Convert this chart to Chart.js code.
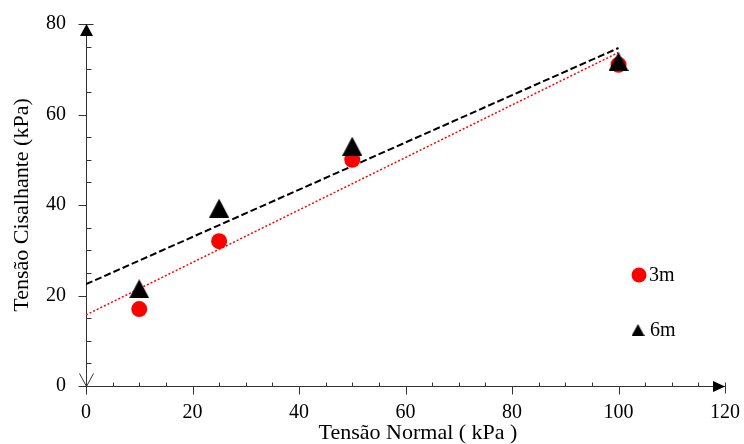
<!DOCTYPE html>
<html>
<head>
<meta charset="utf-8">
<script src="https://cdn.jsdelivr.net/npm/chart.js@4.4.1/dist/chart.umd.min.js"></script>
<style>
  html, body { margin: 0; padding: 0; background: #fff; }
  #wrap { width: 744px; height: 444px; }
</style>
</head>
<body>
<div id="wrap"><canvas id="chart" width="744" height="444"></canvas></div>
<script>
// valores
const tensaoNormal = [10, 25, 50, 100];
const cisalhante3m = [17, 32, 50, 71];
const cisalhante6m = [21.5, 39.3, 53, 71.7];
const trendX = [0, 100];
const trend3m = [15.7, 73.7];
const trend6m = [22.5, 74.7];
const xLabels = [0, 20, 40, 60, 80, 100, 120];
const yLabels = [0, 20, 40, 60, 80];
const legendNames = ['3m', '6m'];

const serif = "'Liberation Serif', 'Times New Roman', serif";
const axisColor = '#333';

function toPoints(xs, ys) {
    return xs.map((x, i) => ({ x: x, y: ys[i] }));
}

// triângulo centrado na caixa (como no Excel)
function makeTriangle(w, h, color) {
    const c = document.createElement('canvas');
    c.width = w;
    c.height = h;
    const g = c.getContext('2d');
    g.fillStyle = color;
    g.beginPath();
    g.moveTo(w / 2, 0);
    g.lineTo(w, h);
    g.lineTo(0, h);
    g.closePath();
    g.fill();
    return c;
}

const triangleBig = makeTriangle(20, 19, '#000');
const triangleSmall = makeTriangle(13, 12, '#000');

// eixos com setas, marcas maiores/menores, legenda e título do eixo x
const axesDeco = {
    id: 'axesDeco',
    afterDraw(chart) {
        const ctx = chart.ctx;
        const xs = chart.scales.x;
        const ys = chart.scales.y;
        const xBase = Math.round(xs.getPixelForValue(0)) + 0.5;
        const yBase = Math.round(ys.getPixelForValue(0)) + 0.5;
        const xEnd = xs.getPixelForValue(xs.max);
        const yTop = ys.getPixelForValue(ys.max);

        ctx.save();
        ctx.strokeStyle = axisColor;
        ctx.fillStyle = axisColor;
        ctx.lineWidth = 1;
        ctx.beginPath();
        xs.ticks.forEach(t => {
            const px = Math.round(xs.getPixelForValue(t.value)) + 0.5;
            if (t.value === xs.max) {
                ctx.moveTo(px, yBase - 4);
                ctx.lineTo(px, yBase + 7);
            } else if (xLabels.includes(t.value)) {
                ctx.moveTo(px, yBase);
                ctx.lineTo(px, yBase + 8);
            } else {
                ctx.moveTo(px, yBase);
                ctx.lineTo(px, yBase - 4);
            }
        });
        ys.ticks.forEach(t => {
            const py = Math.round(ys.getPixelForValue(t.value)) + 0.5;
            if (t.value === ys.max) {
                ctx.moveTo(xBase - 8, py);
                ctx.lineTo(xBase + 7, py);
            } else if (yLabels.includes(t.value)) {
                ctx.moveTo(xBase, py);
                ctx.lineTo(xBase - 8, py);
            } else {
                ctx.moveTo(xBase, py);
                ctx.lineTo(xBase + 5, py);
            }
        });
        // ponta aberta em baixo do eixo y
        ctx.moveTo(xBase - 7, yBase - 13);
        ctx.lineTo(xBase, yBase);
        ctx.lineTo(xBase + 7, yBase - 13);
        ctx.stroke();

        // setas cheias
        ctx.fillStyle = '#000';
        ctx.beginPath();
        ctx.moveTo(xBase, yTop);
        ctx.lineTo(xBase + 6.5, yTop + 12);
        ctx.lineTo(xBase - 6.5, yTop + 12);
        ctx.closePath();
        ctx.fill();
        ctx.beginPath();
        ctx.moveTo(xEnd, yBase);
        ctx.lineTo(xEnd - 12, yBase - 5.5);
        ctx.lineTo(xEnd - 12, yBase + 5.5);
        ctx.closePath();
        ctx.fill();

        // legenda
        ctx.fillStyle = '#ff0000';
        ctx.beginPath();
        ctx.arc(639, 275, 7.5, 0, Math.PI * 2);
        ctx.fill();
        ctx.drawImage(triangleSmall, 638 - 6.5, 330 - 6);
        ctx.fillStyle = '#000';
        ctx.font = '20px ' + serif;
        ctx.textBaseline = 'middle';
        ctx.textAlign = 'left';
        ctx.fillText(legendNames[0], 649, 276);
        ctx.fillText(legendNames[1], 650, 331);

        // título do eixo x
        ctx.font = '22px ' + serif;
        ctx.textBaseline = 'alphabetic';
        ctx.textAlign = 'center';
        ctx.fillText('Tensão Normal ( kPa )', 418, 439);
        ctx.restore();
    }
};

const ctx = document.getElementById('chart').getContext('2d');
const chartInstance = new Chart(ctx, {
    type: 'scatter',
    data: {
        datasets: [
            {
                label: '6m',
                data: toPoints(tensaoNormal, cisalhante6m),
                pointStyle: triangleBig,
                clip: false,
                order: 0
            },
            {
                label: '3m',
                data: toPoints(tensaoNormal, cisalhante3m),
                pointStyle: 'circle',
                pointRadius: 8,
                pointBorderWidth: 0,
                backgroundColor: '#ff0000',
                borderColor: '#ff0000',
                clip: false,
                order: 1
            },
            {
                type: 'line',
                label: 'Linear (6m)',
                data: toPoints(trendX, trend6m),
                borderColor: '#000',
                borderWidth: 2,
                borderDash: [7, 3],
                pointRadius: 0,
                fill: false,
                order: 2
            },
            {
                type: 'line',
                label: 'Linear (3m)',
                data: toPoints(trendX, trend3m),
                borderColor: '#ff0000',
                borderWidth: 1.5,
                borderDash: [2, 2],
                pointRadius: 0,
                fill: false,
                order: 3
            }
        ]
    },
    options: {
        responsive: false,
        animation: false,
        devicePixelRatio: 1,
        layout: { padding: { top: 24, right: 19, left: 0, bottom: 0 } },
        plugins: {
            legend: { display: false },
            tooltip: { enabled: false }
        },
        scales: {
            x: {
                type: 'linear',
                min: 0,
                max: 120,
                grid: { display: false, drawTicks: false },
                border: { display: true, color: axisColor, width: 1 },
                ticks: {
                    stepSize: 5,
                    autoSkip: false,
                    maxRotation: 0,
                    padding: 15,
                    color: '#000',
                    font: { family: serif, size: 20 },
                    callback: v => xLabels.includes(v) ? String(v) : ''
                },
                afterFit: scale => {
                    scale.height = 58;
                    scale.paddingLeft = 0;
                    scale.paddingRight = 0;
                }
            },
            y: {
                type: 'linear',
                min: 0,
                max: 80,
                grid: { display: false, drawTicks: false },
                border: { display: true, color: axisColor, width: 1 },
                ticks: {
                    stepSize: 5,
                    autoSkip: false,
                    padding: 20,
                    color: '#000',
                    font: { family: serif, size: 20 },
                    callback: v => yLabels.includes(v) ? String(v) : ''
                },
                title: {
                    display: true,
                    text: 'Tensão Cisalhante (kPa)',
                    color: '#000',
                    font: { family: serif, size: 22 },
                    padding: { top: 9, bottom: 0 }
                },
                afterFit: scale => {
                    scale.width = 86;
                    scale.paddingTop = 0;
                    scale.paddingBottom = 0;
                }
            }
        }
    },
    plugins: [axesDeco]
});
</script>
</body>
</html>
